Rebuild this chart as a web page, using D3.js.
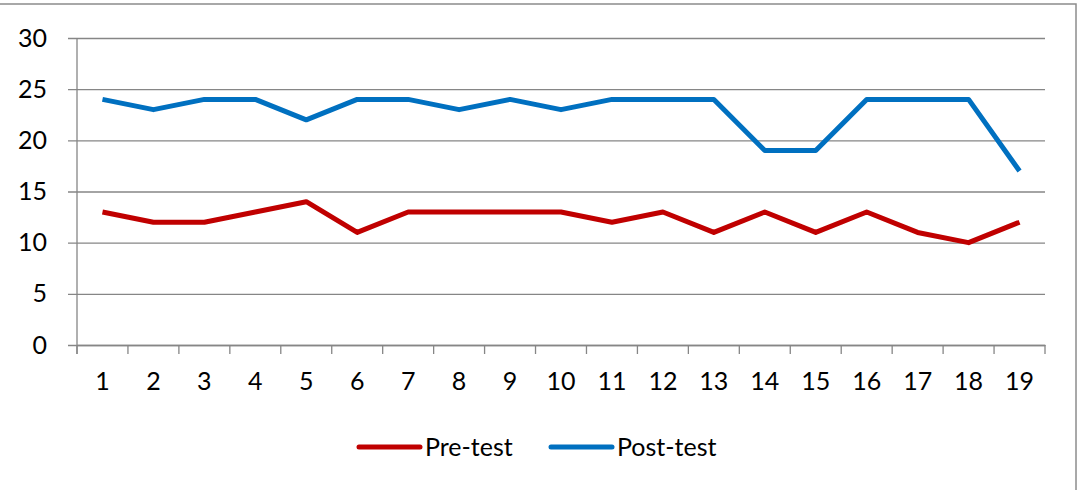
<!DOCTYPE html>
<html>
<head>
<meta charset="utf-8">
<script src="https://cdn.jsdelivr.net/npm/d3@7"></script>
<style>
	body { margin: 0; background: #fff; }
	text { font-family: Lato, "Open Sans", sans-serif; fill: #000; }
</style>
</head>
<body>
<div class="chart"></div>
<script>
let categories = ['1', '2', '3', '4', '5', '6', '7', '8', '9', '10', '11', '12', '13', '14', '15', '16', '17', '18', '19'];
let preTest = [13, 12, 12, 13, 14, 11, 13, 13, 13, 13, 12, 13, 11, 13, 11, 13, 11, 10, 12];
let postTest = [24, 23, 24, 24, 22, 24, 24, 23, 24, 23, 24, 24, 24, 19, 19, 24, 24, 24, 17];
let yTicks = [0, 5, 10, 15, 20, 25, 30];
let seriesNames = ['Pre-test', 'Post-test'];

let width = 1081, height = 490;
let margin = { top: 38, left: 77, right: 1045, bottom: 345 };
let colors = ['#C00000', '#0070C0'];
let gridColor = '#868686';
let fontSize = 25;

let svg = d3.select('.chart').append('svg')
	.attr('width', width)
	.attr('height', height);

// outer border
svg.append('rect')
	.attr('x', -1).attr('y', 4)
	.attr('width', 1077).attr('height', 500)
	.attr('fill', 'none')
	.attr('stroke', '#8c8c8c')
	.attr('stroke-width', 1.5);

let xScale = d3.scaleBand().domain(categories).range([margin.left, margin.right]);
let yScale = d3.scaleLinear().domain([0, 30]).range([margin.bottom, margin.top]);

// gridlines + y labels
let yAxis = svg.append('g')
	.attr('transform', 'translate(' + margin.left + ',0)')
	.call(d3.axisLeft(yScale).tickValues(yTicks).tickSize(-(margin.right - margin.left)).tickSizeOuter(0).tickPadding(30));
yAxis.select('.domain').remove();
yAxis.selectAll('.tick line')
	.attr('x1', -9)
	.attr('stroke', gridColor)
	.attr('stroke-width', 1.3);
yAxis.selectAll('.tick text')
	.attr('font-size', fontSize)
	.attr('font-family', 'Lato, sans-serif');

// y axis line
svg.append('line')
	.attr('x1', margin.left).attr('x2', margin.left)
	.attr('y1', margin.top).attr('y2', margin.bottom + 9)
	.attr('stroke', gridColor)
	.attr('stroke-width', 1.3);

// x axis
let xAxis = svg.append('g')
	.attr('transform', 'translate(0,' + margin.bottom + ')')
	.call(d3.axisBottom(xScale).tickSize(0).tickPadding(27));
xAxis.select('.domain').attr('stroke', gridColor).attr('stroke-width', 1.3);
xAxis.selectAll('.tick text')
	.attr('font-size', fontSize)
	.attr('font-family', 'Lato, sans-serif');

// tick marks at band boundaries
let bounds = categories.map(c => xScale(c)).concat([margin.right]);
svg.append('g').selectAll('line')
	.data(bounds)
	.enter().append('line')
	.attr('x1', d => d).attr('x2', d => d)
	.attr('y1', margin.bottom).attr('y2', margin.bottom + 9)
	.attr('stroke', gridColor)
	.attr('stroke-width', 1.3);

let line = d3.line()
	.x((d, i) => xScale(categories[i]) + xScale.bandwidth() / 2)
	.y(d => yScale(d));

[preTest, postTest].forEach(function (data, i) {
	svg.append('path')
		.datum(data)
		.attr('fill', 'none')
		.attr('stroke', colors[i])
		.attr('stroke-width', 5)
		.attr('stroke-linejoin', 'round')
		.attr('d', line);
});

// legend
let legendX = [359, 551];
let legend = svg.append('g').selectAll('g')
	.data(seriesNames)
	.enter().append('g')
	.attr('transform', (d, i) => 'translate(' + legendX[i] + ',447)');
legend.append('line')
	.attr('x1', 0).attr('x2', 61)
	.attr('stroke', (d, i) => colors[i])
	.attr('stroke-width', 5)
	.attr('stroke-linecap', 'round');
legend.append('text')
	.attr('x', 66)
	.attr('dy', '0.35em')
	.attr('font-size', fontSize)
	.text(d => d);
</script>
</body>
</html>
